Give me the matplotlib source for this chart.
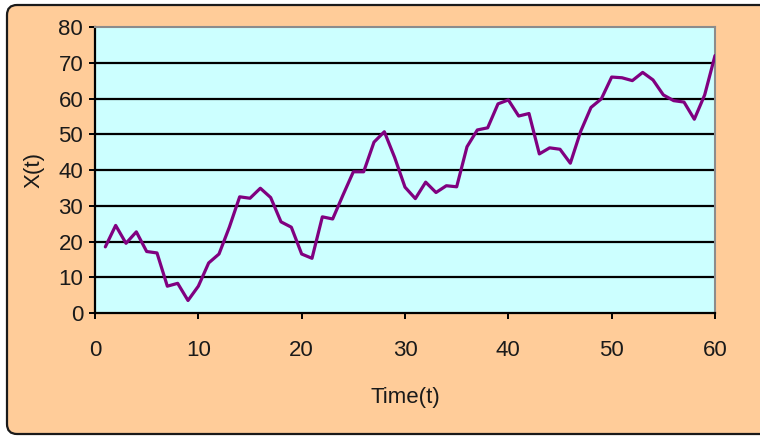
import matplotlib
matplotlib.use("Agg")
import matplotlib.pyplot as plt
from matplotlib.patches import FancyBboxPatch

# Process path X(t) sampled at integer times
time = list(range(1, 61))
x_values = [
    18.5, 24.5, 19.5, 22.7, 17.2, 16.8, 7.5, 8.3, 3.5, 7.5,
    14.0, 16.5, 24.0, 32.5, 32.1, 34.9, 32.3, 25.5, 24.0, 16.5,
    15.3, 26.9, 26.3, 33.0, 39.5, 39.5, 47.8, 50.7, 43.5, 35.2,
    32.0, 36.6, 33.7, 35.6, 35.3, 46.5, 51.2, 51.8, 58.5, 59.6,
    55.1, 55.8, 44.5, 46.2, 45.8, 41.9, 50.8, 57.5, 59.9, 66.0,
    65.8, 65.0, 67.3, 65.2, 61.0, 59.4, 59.0, 54.2, 61.0, 72.0,
]
x_ticks = [0, 10, 20, 30, 40, 50, 60]
y_ticks = [0, 10, 20, 30, 40, 50, 60, 70, 80]

W, H = 760, 436
plt.rcParams["font.family"] = ["Liberation Sans", "DejaVu Sans"]

fig = plt.figure(figsize=(W / 100, H / 100), dpi=100, facecolor="white")

# Chart area: orange rounded panel with dark outline
bg = fig.add_axes([0, 0, 1, 1], zorder=0)
bg.set_xlim(0, W)
bg.set_ylim(H, 0)
bg.axis("off")
panel = FancyBboxPatch((7, 5), 800, 429,
                       boxstyle="round,pad=0,rounding_size=10",
                       facecolor="#FFCC99", edgecolor="#1a1a1a",
                       linewidth=1.6)
panel.set_clip_on(False)
bg.add_patch(panel)

# Plot area
left, right, top, bottom = 95, 715, 27, 313
ax = fig.add_axes([left / W, (H - bottom) / H, (right - left) / W, (bottom - top) / H],
                  zorder=1)
ax.set_facecolor("#CCFFFF")
ax.set_xlim(0, 60)
ax.set_ylim(0, 80)
ax.set_xticks(x_ticks)
ax.set_yticks(y_ticks)

for y in y_ticks[1:-1]:
    ax.axhline(y, color="black", linewidth=1.6, zorder=1)

ax.plot(time, x_values, color="#800080", linewidth=2.3,
        solid_joinstyle="round", solid_capstyle="round", zorder=3)

for side in ("top", "right"):
    ax.spines[side].set_color("#8c8c8c")
    ax.spines[side].set_linewidth(1.5)
for side in ("left", "bottom"):
    ax.spines[side].set_color("black")
    ax.spines[side].set_linewidth(1.6)

ax.tick_params(axis="both", direction="out", length=4.5, width=1.4,
               colors="black", labelcolor="#1a1a1a", labelsize=16)
ax.tick_params(axis="y", pad=4)
ax.tick_params(axis="x", pad=15)

ax.set_xlabel("Time(t)", fontsize=16, color="#1a1a1a", labelpad=19)
ax.set_ylabel("X(t)", fontsize=16, color="#1a1a1a", labelpad=10)

fig.savefig("out.png", dpi=100, facecolor="white")
